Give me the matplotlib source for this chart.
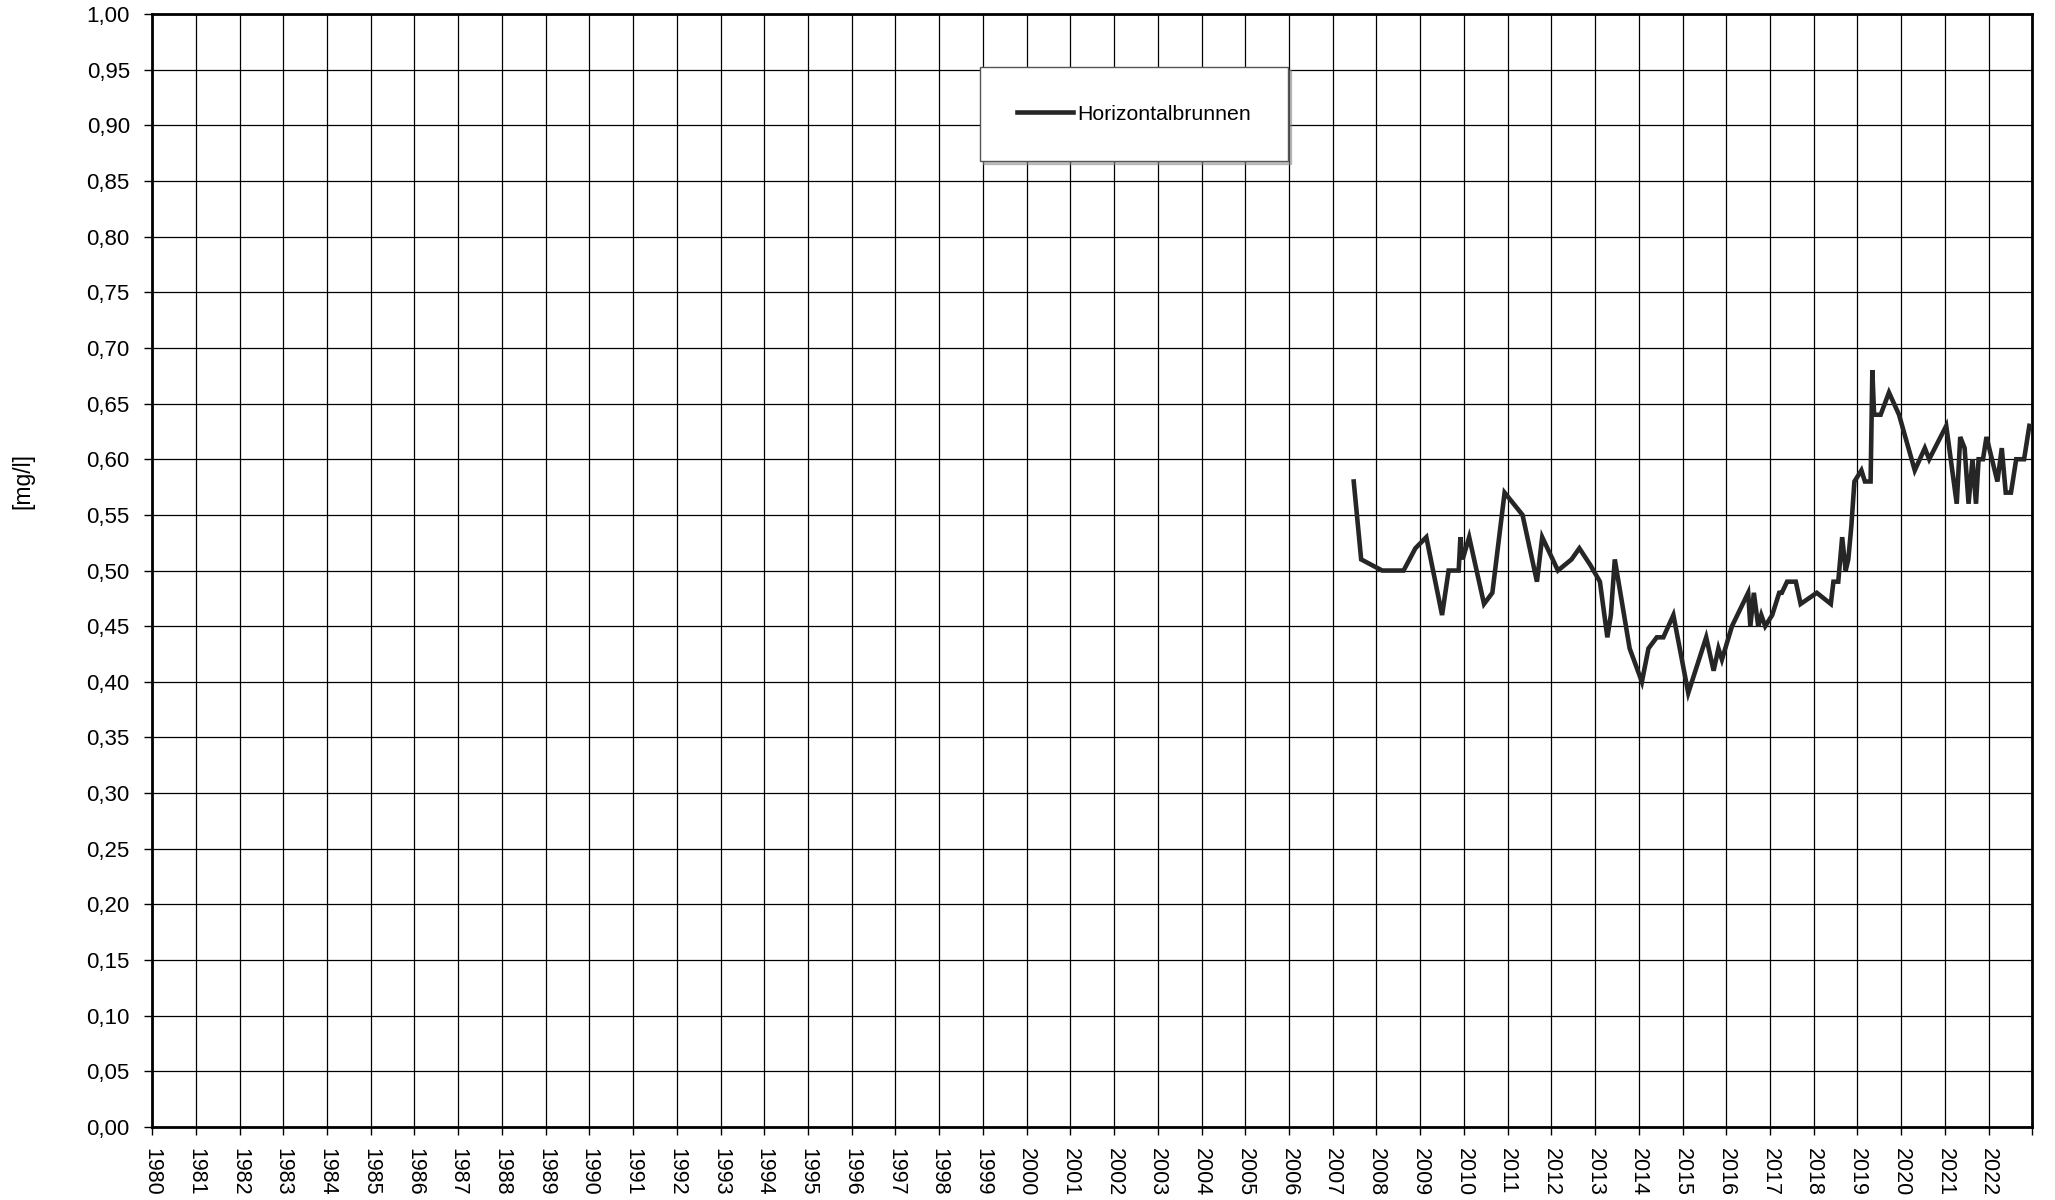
import numpy as np
import matplotlib.pyplot as plt
from matplotlib.ticker import FuncFormatter

plt.rcParams['font.family'] = ['Liberation Sans', 'DejaVu Sans']

# Messwerte Horizontalbrunnen (Jahr als Dezimalzahl, Wert in mg/l)
jahre = [2007.48, 2007.65, 2008.13, 2008.62, 2008.89, 2009.14, 2009.50, 2009.65,
         2009.88, 2009.92, 2009.97, 2010.12, 2010.46, 2010.65, 2010.93, 2011.34,
         2011.67, 2011.79, 2012.15, 2012.46, 2012.64, 2012.89, 2013.11, 2013.28,
         2013.36, 2013.45, 2013.79, 2014.07, 2014.22, 2014.41, 2014.56, 2014.79,
         2015.13, 2015.54, 2015.71, 2015.82, 2015.90, 2016.13, 2016.50, 2016.55,
         2016.63, 2016.73, 2016.80, 2016.89, 2017.05, 2017.21, 2017.27, 2017.39,
         2017.59, 2017.70, 2018.07, 2018.39, 2018.45, 2018.56, 2018.65, 2018.73,
         2018.79, 2018.86, 2018.93, 2019.09, 2019.17, 2019.30, 2019.34, 2019.38,
         2019.53, 2019.72, 2019.95, 2020.31, 2020.54, 2020.64, 2021.03, 2021.27,
         2021.35, 2021.45, 2021.54, 2021.63, 2021.71, 2021.77, 2021.87, 2021.95,
         2022.20, 2022.30, 2022.39, 2022.51, 2022.63, 2022.72, 2022.81, 2022.93]
werte = [0.58, 0.51, 0.50, 0.50, 0.52, 0.53, 0.46, 0.50,
         0.50, 0.53, 0.51, 0.53, 0.47, 0.48, 0.57, 0.55,
         0.49, 0.53, 0.50, 0.51, 0.52, 0.505, 0.49, 0.44,
         0.46, 0.51, 0.43, 0.40, 0.43, 0.44, 0.44, 0.46,
         0.39, 0.44, 0.41, 0.43, 0.42, 0.45, 0.48, 0.45,
         0.48, 0.45, 0.46, 0.45, 0.46, 0.48, 0.48, 0.49,
         0.49, 0.47, 0.48, 0.47, 0.49, 0.49, 0.53, 0.50,
         0.51, 0.54, 0.58, 0.59, 0.58, 0.58, 0.68, 0.64,
         0.64, 0.66, 0.64, 0.59, 0.61, 0.60, 0.63, 0.56,
         0.62, 0.61, 0.56, 0.60, 0.56, 0.60, 0.60, 0.62,
         0.58, 0.61, 0.57, 0.57, 0.60, 0.60, 0.60, 0.63]

x_ticks = list(range(1980, 2024))
x_labels = [str(j) for j in range(1980, 2023)] + ['']
y_ticks = np.arange(0, 1.0001, 0.05)

fig = plt.figure(figsize=(20.55, 12), dpi=100)
ax = fig.add_axes([0.074, 0.0608, 0.915, 0.9275])

ax.plot(jahre, werte, color='#262626', linewidth=3.3, label='Horizontalbrunnen',
        solid_joinstyle='miter', zorder=3)

ax.set_xlim(1980, 2023)
ax.set_ylim(0, 1.0)
ax.set_xticks(x_ticks)
ax.set_xticklabels(x_labels, rotation=-90, fontsize=15.5)
ax.set_yticks(y_ticks)
ax.yaxis.set_major_formatter(FuncFormatter(lambda v, p: f'{v:.2f}'.replace('.', ',')))
ax.tick_params(axis='y', labelsize=16, direction='out', length=6, width=1, pad=10)
ax.tick_params(axis='x', direction='out', length=6, width=1, pad=9)

ax.grid(True, color='black', linewidth=0.9)
ax.set_axisbelow(True)
for s in ax.spines.values():
    s.set_linewidth(2)

fig.text(23 / 2055, 1 - 481 / 1200, '[mg/l]', fontsize=16.5, rotation=90,
         ha='center', va='center')

leg = ax.legend(loc='upper left', bbox_to_anchor=(0.4404, 0.952), fontsize=15.3,
                fancybox=False, shadow={'ox': 2, 'oy': -2, 'color': '#888888'},
                edgecolor='#555555', framealpha=1, borderpad=1.75,
                handlelength=2.6, handletextpad=0.2, borderaxespad=0)
leg.get_frame().set_linewidth(1)

plt.savefig('out.png', dpi=100)
